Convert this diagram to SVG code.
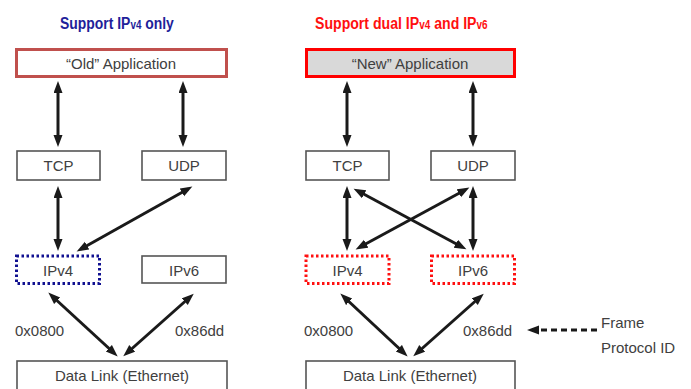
<svg xmlns="http://www.w3.org/2000/svg" width="691" height="389" viewBox="0 0 691 389">
<style>
.box{fill:#fff;stroke:#555;stroke-width:1.6}
.t{font-family:"Liberation Sans",Arial,sans-serif;font-size:15px;fill:#404040;text-anchor:middle}
.lbl{font-family:"Liberation Sans",Arial,sans-serif;font-size:15px;fill:#404040}
.title{font-family:"Liberation Sans",Arial,sans-serif;font-size:17px;font-weight:bold}
.arr{stroke:#1a1a1a;stroke-width:3;fill:none;marker-start:url(#ah);marker-end:url(#ah)}
</style>
<defs>
<marker id="ah" markerUnits="userSpaceOnUse" markerWidth="13" markerHeight="10" refX="7" refY="4.5" orient="auto-start-reverse" viewBox="0 0 13 10">
<path d="M0,0 L12,4.5 L0,9 z" fill="#1a1a1a"/>
</marker>
<marker id="ah1" markerUnits="userSpaceOnUse" markerWidth="13" markerHeight="10" refX="7" refY="4.5" orient="auto" viewBox="0 0 13 10">
<path d="M0,0 L12,4.5 L0,9 z" fill="#1a1a1a"/>
</marker>
</defs>
<rect width="691" height="389" fill="#fff"/>

<g id="title-left">
<text class="title" transform="translate(60,29) scale(0.82,1)" fill="#1f1f9a">Support IP<tspan font-size="12">v4</tspan> only</text>
</g>
<g id="title-right">
<text class="title" transform="translate(315,29) scale(0.83,1)" fill="#ff1010">Support dual IP<tspan font-size="12">v4</tspan> and IP<tspan font-size="12">v6</tspan></text>
</g>

<g id="old-app">
<rect x="16.5" y="49.5" width="210" height="27" fill="#fff" stroke="#c0504d" stroke-width="3"/>
<text class="t" x="121" y="69">“Old” Application</text>
</g>
<g id="tcp-l">
<rect class="box" x="17" y="151" width="83" height="29"/>
<text class="t" x="58.5" y="171">TCP</text>
</g>
<g id="udp-l">
<rect class="box" x="142" y="151" width="84" height="29"/>
<text class="t" x="184" y="171">UDP</text>
</g>
<g id="ipv4-l">
<rect x="16.5" y="256" width="83" height="27.5" fill="#fff" stroke="#101090" stroke-width="3" stroke-dasharray="2.5 2.5"/>
<text class="t" x="58" y="276">IPv4</text>
</g>
<g id="ipv6-l">
<rect class="box" x="142" y="256" width="84" height="27"/>
<text class="t" x="184" y="276">IPv6</text>
</g>
<g id="dl-l">
<rect class="box" x="17" y="361" width="210" height="40"/>
<text class="t" x="122" y="381">Data Link (Ethernet)</text>
</g>

<g id="new-app">
<rect x="306.5" y="49.5" width="208" height="27" fill="#d9d9d9" stroke="#ff0000" stroke-width="3"/>
<text class="t" x="410" y="69">“New” Application</text>
</g>
<g id="tcp-r">
<rect class="box" x="306" y="151" width="83" height="29"/>
<text class="t" x="347.5" y="171">TCP</text>
</g>
<g id="udp-r">
<rect class="box" x="431" y="151" width="84" height="29"/>
<text class="t" x="473" y="171">UDP</text>
</g>
<g id="ipv4-r">
<rect x="306" y="256" width="83" height="27.5" fill="#fff" stroke="#ff1010" stroke-width="3" stroke-dasharray="2.5 2.5"/>
<text class="t" x="347.5" y="276">IPv4</text>
</g>
<g id="ipv6-r">
<rect x="431.5" y="256" width="83" height="27.5" fill="#fff" stroke="#ff1010" stroke-width="3" stroke-dasharray="2.5 2.5"/>
<text class="t" x="473" y="276">IPv6</text>
</g>
<g id="dl-r">
<rect class="box" x="306" y="361" width="209" height="40"/>
<text class="t" x="410" y="381">Data Link (Ethernet)</text>
</g>

<g id="labels">
<text class="lbl" x="15" y="336">0x0800</text>
<text class="lbl" x="175" y="336">0x86dd</text>
<text class="lbl" x="304" y="336">0x0800</text>
<text class="lbl" x="463" y="336">0x86dd</text>
<text class="lbl" x="601" y="328">Frame</text>
<text class="lbl" x="601" y="353">Protocol ID</text>
</g>

<g id="connectors">
<line class="arr" x1="58" y1="86" x2="58" y2="142"/>
<line class="arr" x1="183" y1="86" x2="183" y2="142"/>
<line class="arr" x1="58" y1="191" x2="58" y2="246"/>
<line class="arr" x1="188" y1="189" x2="81" y2="249"/>
<line class="arr" x1="52" y1="296" x2="114" y2="353"/>
<line class="arr" x1="190" y1="297" x2="127" y2="353"/>

<line class="arr" x1="347" y1="86" x2="347" y2="142"/>
<line class="arr" x1="473" y1="86" x2="473" y2="142"/>
<line class="arr" x1="347" y1="191" x2="347" y2="246"/>
<line class="arr" x1="473" y1="191" x2="473" y2="246"/>
<line class="arr" x1="358" y1="191" x2="462" y2="247"/>
<line class="arr" x1="465" y1="190" x2="360" y2="247"/>
<line class="arr" x1="344" y1="297" x2="404" y2="353"/>
<line class="arr" x1="480" y1="297" x2="417" y2="353"/>

<line x1="597" y1="330" x2="532" y2="330" stroke="#1a1a1a" stroke-width="3" stroke-dasharray="6 4" marker-end="url(#ah1)"/>
</g>
</svg>
